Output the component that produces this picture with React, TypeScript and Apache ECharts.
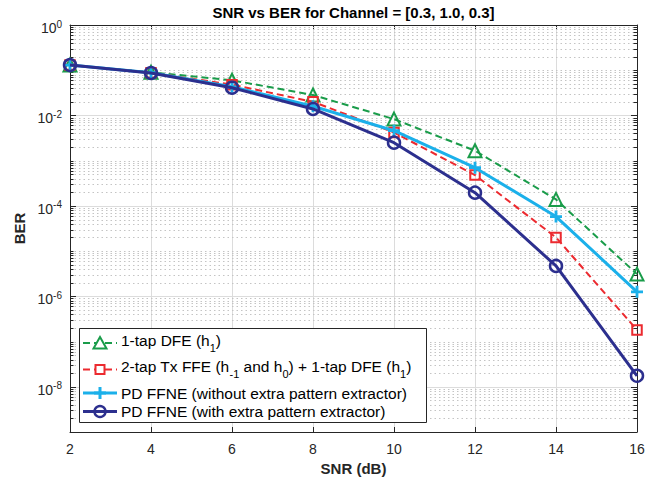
import React, { useEffect, useRef } from 'react';
import * as echarts from 'echarts';

// SNR sweep (dB)
const snr = [2, 4, 6, 8, 10, 12, 14, 16];

// Bit error rate for each equaliser configuration
const berDfe1Tap = [0.13, 0.09, 0.06, 0.0283, 0.0083, 0.00166, 1.39e-4, 3.1e-6];
const berTxFfeDfe = [0.13, 0.088, 0.048, 0.02, 0.0042, 4.8e-4, 2.0e-5, 1.8e-7];
const berFfneNoExtractor = [0.13, 0.088, 0.043, 0.016, 0.0046, 7.0e-4, 5.8e-5, 1.26e-6];
const berFfneExtractor = [0.13, 0.087, 0.041, 0.0139, 0.0025, 1.96e-4, 4.7e-6, 1.75e-8];

const X_MIN = 2;
const X_MAX = 16;
const Y_MIN = 1e-9;
const Y_MAX = 1;

const FONT = '"Liberation Sans", Arial, Helvetica, sans-serif';
const AXIS_COLOR = '#262626';

const GREEN = '#1a9c4a';
const RED = '#ec2a2f';
const CYAN = '#1bb0ea';
const NAVY = '#2c2f8e';

// log-axis grid: value + whether it is a labelled (major) decade
const yGridLines: [number, number, number][] = [];
for (let e = -9; e < 0; e++) {
  for (let m = 1; m <= 9; m++) {
    if (e === -9 && m === 1) continue;
    yGridLines.push([X_MIN, m * Math.pow(10, e), m === 1 && e % 2 === 0 ? 1 : 0]);
  }
}

const PLUS_PATH = 'path://M0,4.6H12V7.4H0Z M4.6,0H7.4V12H4.6Z';

const LEGEND_Z = 100;
const LEG_X0 = 83;
const LEG_X1 = 117;
const LEG_MX = 100;
const LEG_TX = 121;
const LEGEND_FONT = 15.5;

function legendRow(y: number, color: string, dash: number[] | null, marker: any, label: any) {
  return [
    {
      type: 'line',
      z: LEGEND_Z + 1,
      shape: { x1: LEG_X0, y1: y, x2: LEG_X1, y2: y },
      style: { stroke: color, lineWidth: dash ? 2 : 3, lineDash: dash || undefined },
    },
    { ...marker, z: LEGEND_Z + 2 },
    { ...label, z: LEGEND_Z + 2 },
  ];
}

export default function App() {
  const ref = useRef<HTMLDivElement>(null);

  useEffect(() => {
    if (!ref.current) return;
    const chart = echarts.init(ref.current, null, { renderer: 'svg' });

    const subRich = {
      t: { fontSize: LEGEND_FONT, lineHeight: 17, verticalAlign: 'top', fontFamily: FONT, color: '#000' },
      s: { fontSize: 11, lineHeight: 11, padding: [10, 0, 0, 0], verticalAlign: 'top', fontFamily: FONT, color: '#000' },
    };

    const lineSeries = (name: string, data: number[], opts: any) => ({
      name,
      type: 'line',
      data: snr.map((x, i) => [x, data[i]]),
      clip: false,
      ...opts,
    });

    const legendY = [343, 369.5, 393, 411.5];

    chart.setOption({
      animation: false,
      backgroundColor: '#ffffff',
      grid: { left: 70, right: 30, top: 25, bottom: 53 },
      xAxis: [
        {
          type: 'value',
          min: X_MIN,
          max: X_MAX,
          interval: 2,
          name: 'SNR (dB)',
          nameLocation: 'middle',
          nameGap: 27,
          nameTextStyle: { fontSize: 15, fontWeight: 'bold', color: AXIS_COLOR, fontFamily: FONT },
          axisLine: { show: true, lineStyle: { color: AXIS_COLOR, width: 1 } },
          axisTick: { show: true, inside: true, length: 5, lineStyle: { color: AXIS_COLOR } },
          axisLabel: { fontSize: 14, color: AXIS_COLOR, fontFamily: FONT, margin: 10 },
          splitLine: { show: true, lineStyle: { color: '#dcdcdc', width: 1 } },
        },
        {
          type: 'value',
          position: 'top',
          min: X_MIN,
          max: X_MAX,
          interval: 2,
          axisLine: { show: true, lineStyle: { color: AXIS_COLOR, width: 1 } },
          axisTick: { show: true, inside: true, length: 5, lineStyle: { color: AXIS_COLOR } },
          axisLabel: { show: false },
          splitLine: { show: false },
        },
      ],
      yAxis: [
        {
          type: 'log',
          logBase: 10,
          min: Y_MIN,
          max: Y_MAX,
          splitNumber: 9,
          name: 'BER',
          nameLocation: 'middle',
          nameGap: 32,
          nameTextStyle: { fontSize: 15, fontWeight: 'bold', color: AXIS_COLOR, fontFamily: FONT },
          axisLine: { show: true, lineStyle: { color: AXIS_COLOR, width: 1 } },
          axisTick: { show: false },
          splitLine: { show: false },
          axisLabel: {
            margin: 8,
            formatter: (v: number) => {
              const e = Math.round(Math.log10(v));
              if (e % 2 !== 0) return '';
              return `{b|10}{s|${e}}`;
            },
            rich: {
              b: { fontSize: 14, lineHeight: 16, padding: [4, 0, 0, 0], verticalAlign: 'top', color: AXIS_COLOR, fontFamily: FONT },
              s: { fontSize: 10, lineHeight: 10, padding: [2, 0, 0, 0], verticalAlign: 'top', color: AXIS_COLOR, fontFamily: FONT },
            },
          },
        },
        {
          type: 'log',
          logBase: 10,
          min: Y_MIN,
          max: Y_MAX,
          position: 'right',
          axisLine: { show: true, lineStyle: { color: AXIS_COLOR, width: 1 } },
          axisTick: { show: false },
          axisLabel: { show: false },
          splitLine: { show: false },
        },
      ],
      series: [
        {
          type: 'custom',
          coordinateSystem: 'cartesian2d',
          silent: true,
          z: 1,
          encode: { x: 0, y: 1 },
          data: yGridLines,
          renderItem: (params: any, api: any) => {
            const v = api.value(1);
            const major = api.value(2) === 1;
            const pl = api.coord([X_MIN, v]);
            const pr = api.coord([X_MAX, v]);
            const y = Math.round(pl[1]) + 0.5;
            const xl = pl[0];
            const xr = pr[0];
            const len = major ? 6 : 3.5;
            return {
              type: 'group',
              children: [
                {
                  type: 'line',
                  shape: { x1: xl, y1: y, x2: xr, y2: y },
                  style: major
                    ? { stroke: '#dcdcdc', lineWidth: 1 }
                    : { stroke: '#c4c4c4', lineWidth: 1, lineDash: [1.5, 3] },
                },
                {
                  type: 'line',
                  shape: { x1: xl, y1: y, x2: xl + len, y2: y },
                  style: { stroke: AXIS_COLOR, lineWidth: 1 },
                },
                {
                  type: 'line',
                  shape: { x1: xr - len, y1: y, x2: xr, y2: y },
                  style: { stroke: AXIS_COLOR, lineWidth: 1 },
                },
              ],
            };
          },
        },
        lineSeries('1-tap DFE (h1)', berDfe1Tap, {
          z: 3,
          symbol: 'triangle',
          symbolSize: 13,
          lineStyle: { color: GREEN, width: 2, type: [7, 4] },
          itemStyle: { color: 'rgba(0,0,0,0)', borderColor: GREEN, borderWidth: 2 },
        }),
        lineSeries('2-tap Tx FFE (h-1 and h0) + 1-tap DFE (h1)', berTxFfeDfe, {
          z: 4,
          symbol: 'rect',
          symbolSize: 9.5,
          lineStyle: { color: RED, width: 2, type: [7, 4] },
          itemStyle: { color: 'rgba(0,0,0,0)', borderColor: RED, borderWidth: 2 },
        }),
        lineSeries('PD FFNE (without extra pattern extractor)', berFfneNoExtractor, {
          z: 5,
          symbol: PLUS_PATH,
          symbolSize: 12,
          lineStyle: { color: CYAN, width: 3 },
          itemStyle: { color: CYAN, borderWidth: 0 },
        }),
        lineSeries('PD FFNE (with extra pattern extractor)', berFfneExtractor, {
          z: 6,
          symbol: 'circle',
          symbolSize: 12,
          lineStyle: { color: NAVY, width: 3 },
          itemStyle: { color: 'rgba(0,0,0,0)', borderColor: NAVY, borderWidth: 2.5 },
        }),
      ],
      graphic: [
        {
          type: 'text',
          x: 353.5,
          y: 12,
          style: {
            text: 'SNR vs BER for Channel = [0.3, 1.0, 0.3]',
            align: 'center',
            verticalAlign: 'middle',
            fontSize: 15,
            fontWeight: 'bold',
            fontFamily: FONT,
            fill: '#000',
          },
        },
        {
          type: 'rect',
          z: LEGEND_Z,
          shape: { x: 79.5, y: 328.5, width: 347, height: 94 },
          style: { fill: '#ffffff', stroke: AXIS_COLOR, lineWidth: 1 },
        },
        ...legendRow(
          legendY[0],
          GREEN,
          [7, 4],
          {
            type: 'polygon',
            shape: { points: [[LEG_MX, legendY[0] - 6], [LEG_MX + 6.5, legendY[0] + 5.5], [LEG_MX - 6.5, legendY[0] + 5.5]] },
            style: { fill: '#fff', stroke: GREEN, lineWidth: 2 },
          },
          {
            type: 'text',
            x: LEG_TX,
            y: legendY[0] - 2,
            style: { text: '{t|1-tap DFE (h}{s|1}{t|)}', rich: subRich, verticalAlign: 'middle' },
          },
        ),
        ...legendRow(
          legendY[1],
          RED,
          [7, 4],
          {
            type: 'rect',
            shape: { x: LEG_MX - 4.5, y: legendY[1] - 4.5, width: 9, height: 9 },
            style: { fill: '#fff', stroke: RED, lineWidth: 2 },
          },
          {
            type: 'text',
            x: LEG_TX,
            y: legendY[1] - 3,
            style: {
              text: '{t|2-tap Tx FFE (h}{s|-1}{t| and h}{s|0}{t|) + 1-tap DFE (h}{s|1}{t|)}',
              rich: subRich,
              verticalAlign: 'middle',
            },
          },
        ),
        ...legendRow(
          legendY[2],
          CYAN,
          null,
          {
            type: 'group',
            children: [
              { type: 'line', z: LEGEND_Z + 2, shape: { x1: LEG_MX - 6, y1: legendY[2], x2: LEG_MX + 6, y2: legendY[2] }, style: { stroke: CYAN, lineWidth: 3 } },
              { type: 'line', z: LEGEND_Z + 2, shape: { x1: LEG_MX, y1: legendY[2] - 6, x2: LEG_MX, y2: legendY[2] + 6 }, style: { stroke: CYAN, lineWidth: 3 } },
            ],
          },
          {
            type: 'text',
            x: LEG_TX,
            y: legendY[2],
            style: { text: 'PD FFNE (without extra pattern extractor)', fontSize: LEGEND_FONT, fontFamily: FONT, fill: '#000', verticalAlign: 'middle' },
          },
        ),
        ...legendRow(
          legendY[3],
          NAVY,
          null,
          {
            type: 'circle',
            shape: { cx: LEG_MX, cy: legendY[3], r: 5.5 },
            style: { fill: 'rgba(0,0,0,0)', stroke: NAVY, lineWidth: 2.5 },
          },
          {
            type: 'text',
            x: LEG_TX,
            y: legendY[3],
            style: { text: 'PD FFNE (with extra pattern extractor)', fontSize: LEGEND_FONT, fontFamily: FONT, fill: '#000', verticalAlign: 'middle' },
          },
        ),
      ],
    });

    return () => chart.dispose();
  }, []);

  return (
    <div
      ref={ref}
      style={{ position: 'fixed', left: 0, top: 0, width: 667, height: 485, background: '#fff' }}
    />
  );
}
